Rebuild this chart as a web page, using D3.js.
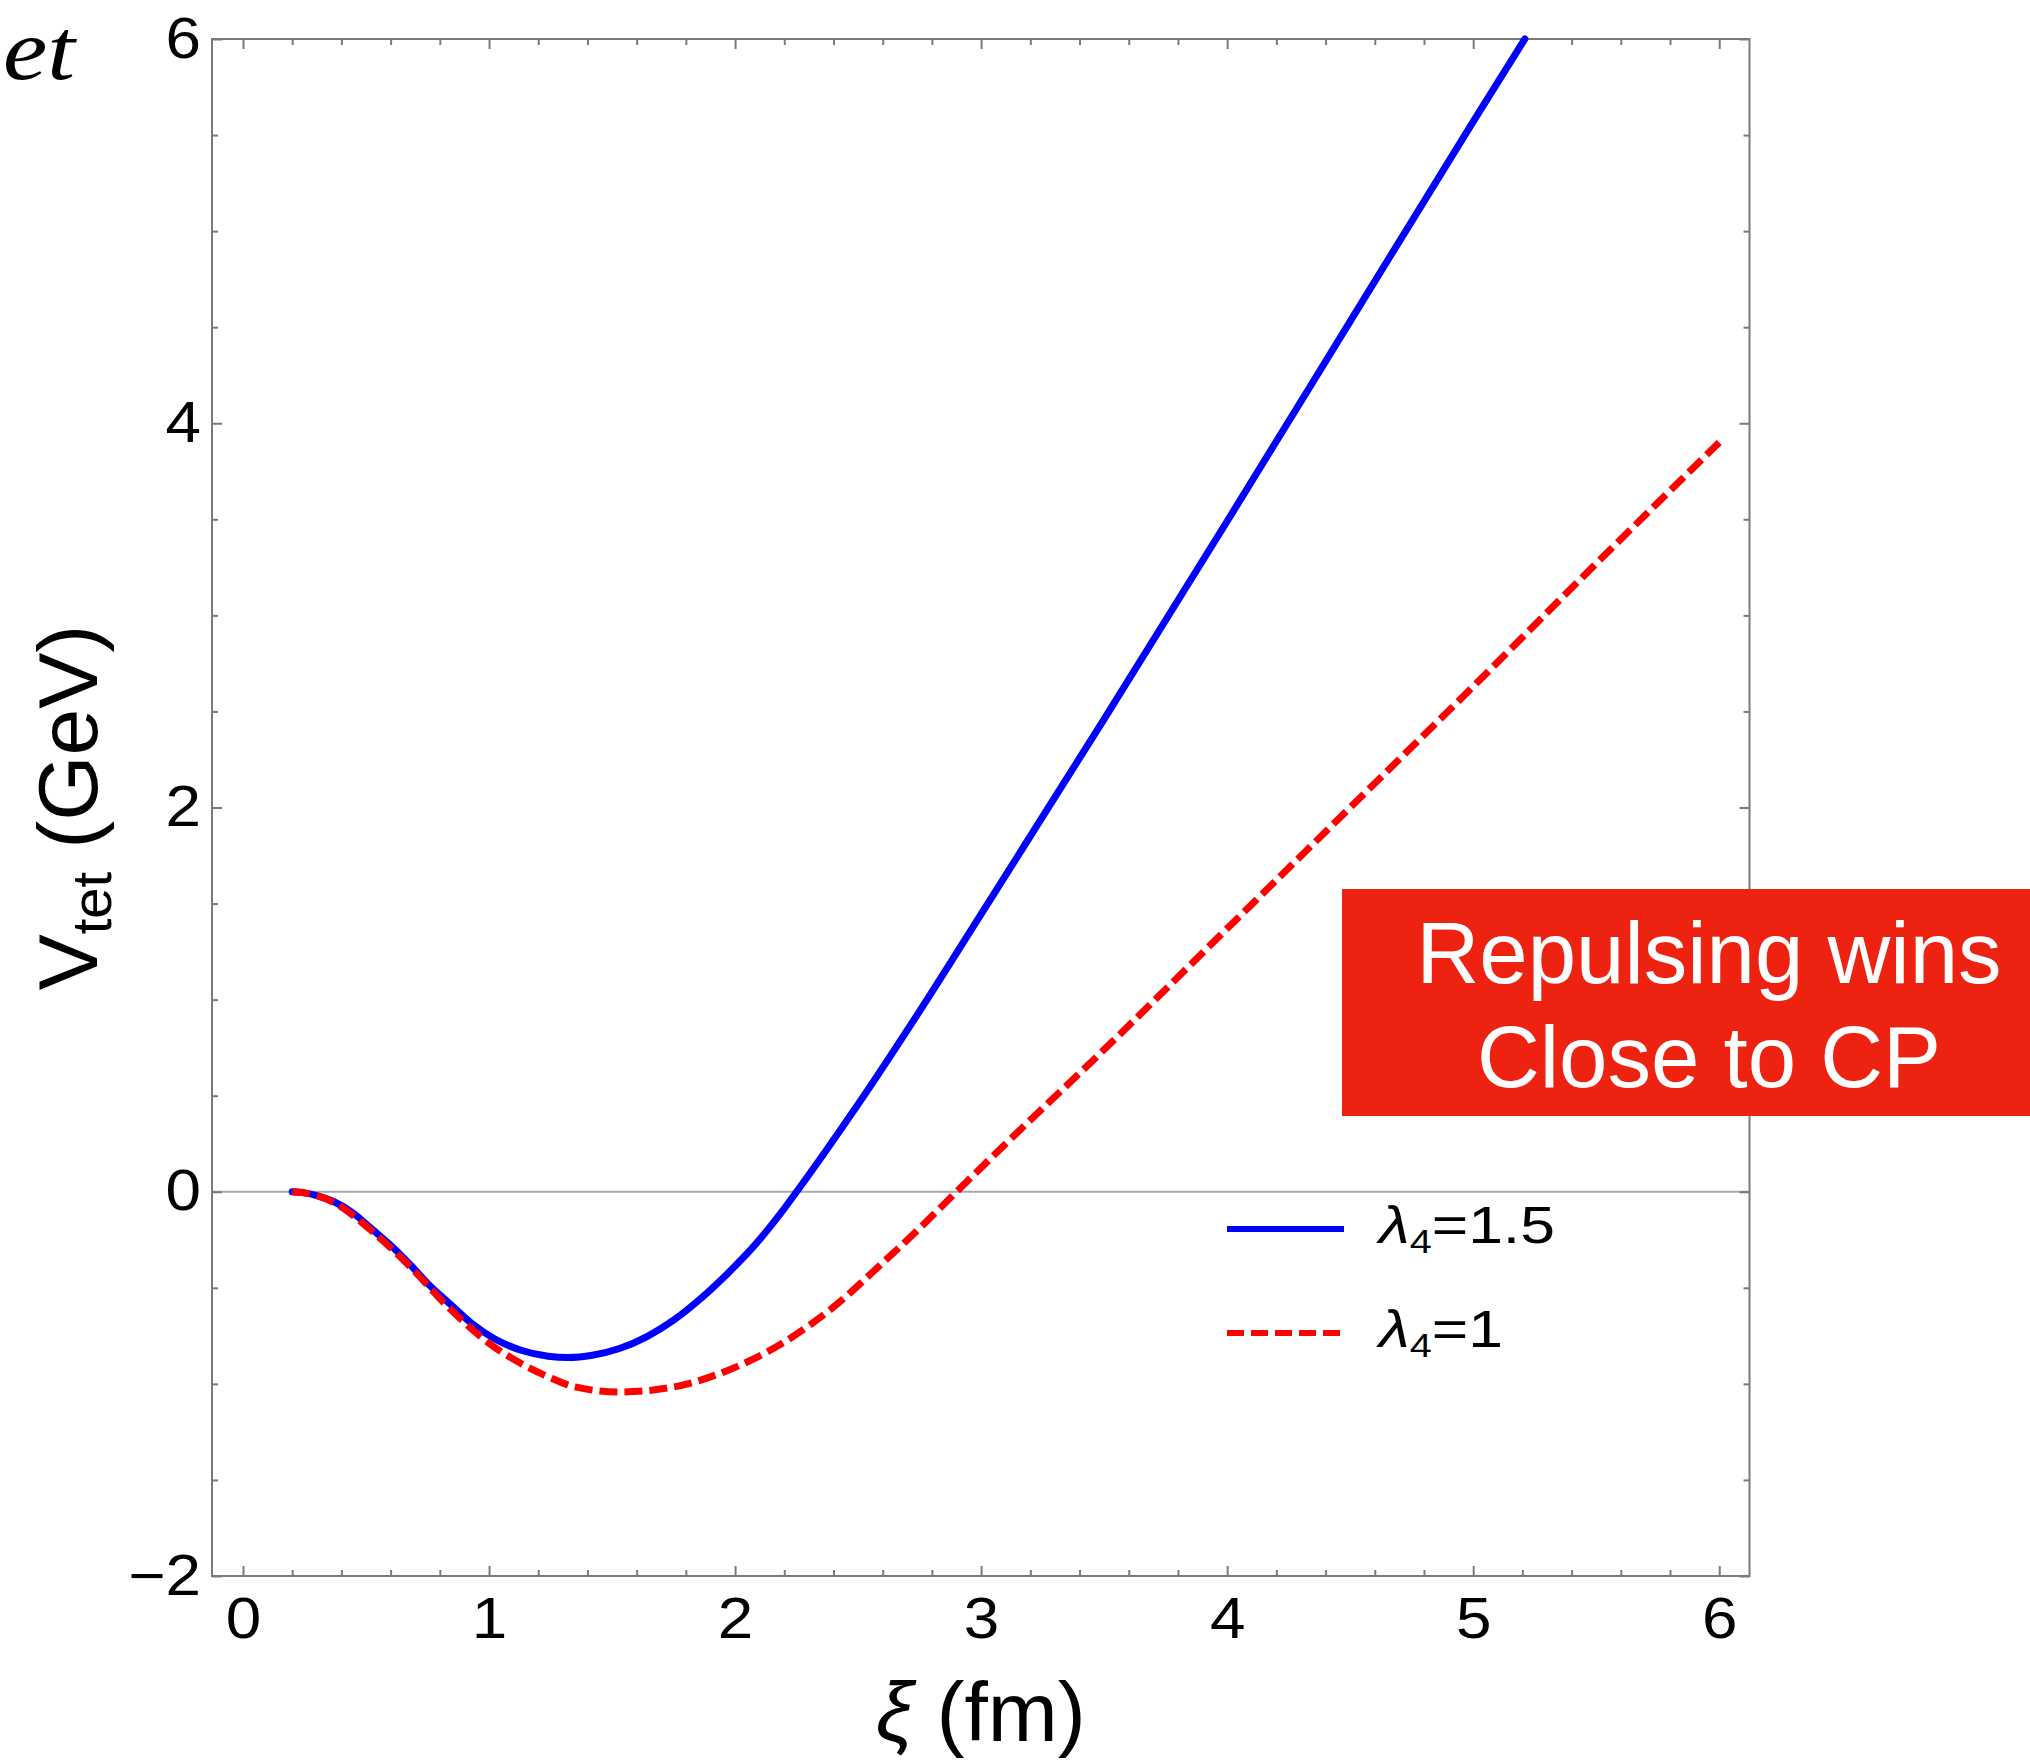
<!DOCTYPE html>
<html>
<head>
<meta charset="utf-8">
<script src="https://cdn.jsdelivr.net/npm/d3@7"></script>
<style>
  html, body { margin: 0; padding: 0; background: #ffffff; }
  svg { display: block; }
</style>
</head>
<body>
<script>
// ---------------- data ----------------
const xiBlue = [0.20, 0.25, 0.30, 0.37, 0.45, 0.52, 0.61, 0.68, 0.75, 0.84, 0.93, 1.02, 1.13, 1.24, 1.32, 1.42, 1.53, 1.64, 1.75, 1.86, 1.97, 2.08, 2.185, 2.25, 2.37, 2.50, 2.75, 3.00, 3.50, 4.00, 4.50, 5.00, 5.21];
const vBlue  = [0.000, -0.006, -0.020, -0.052, -0.113, -0.190, -0.290, -0.380, -0.477, -0.582, -0.686, -0.764, -0.825, -0.856, -0.863, -0.851, -0.816, -0.755, -0.668, -0.556, -0.425, -0.278, -0.113, 0.000, 0.215, 0.455, 0.940, 1.445, 2.460, 3.490, 4.530, 5.570, 6.000];

const xiRed = [0.20, 0.25, 0.30, 0.37, 0.52, 0.68, 0.84, 1.02, 1.13, 1.24, 1.35, 1.53, 1.75, 1.97, 2.19, 2.40, 2.60, 2.75, 2.90, 3.10, 3.50, 4.00, 4.50, 5.00, 5.50, 6.00];
const vRed  = [0.000, -0.006, -0.020, -0.056, -0.200, -0.391, -0.608, -0.807, -0.894, -0.963, -1.016, -1.042, -1.016, -0.930, -0.790, -0.600, -0.370, -0.190, 0.000, 0.250, 0.740, 1.370, 2.000, 2.630, 3.270, 3.900];

const xMajorTicks = [0, 1, 2, 3, 4, 5, 6];
const yMajorTicks = [-2, 0, 2, 4, 6];
const seriesNames = ["λ4=1.5", "λ4=1"];
const boxLines = ["Repulsing wins", "Close to CP"];

// ---------------- layout ----------------
const W = 2030, H = 1763;
const L = 212, R = 1749.5, T = 39, B = 1576;
const frameColor = "#7a7a7a";
const sans = "'Liberation Sans', Arial, Helvetica, sans-serif";

const svg = d3.select("body").append("svg").attr("width", W).attr("height", H)
  .attr("viewBox", `0 0 ${W} ${H}`);

const x = d3.scaleLinear().domain([-0.126, 6.123]).range([L, R]);
const y = d3.scaleLinear().domain([-2, 6]).range([B, T]);

const xMinor = d3.range(0, 6.0001, 0.2).map(v => +v.toFixed(2)).filter(v => !xMajorTicks.includes(v));
const yMinor = d3.range(-2, 6.0001, 0.5).filter(v => !yMajorTicks.includes(v));

// zero line
svg.append("line")
  .attr("x1", L).attr("x2", R).attr("y1", y(0)).attr("y2", y(0))
  .attr("stroke", "#a8a8a8").attr("stroke-width", 2);

function styleAxis(g) {
  g.select(".domain").remove();
  g.selectAll(".tick line").attr("stroke", frameColor).attr("stroke-width", 2);
  g.selectAll("text").attr("fill", "#000").attr("font-family", sans).attr("font-size", 57);
}
function widen(g, s) {
  g.selectAll(".tick text").each(function () {
    const el = d3.select(this);
    const xx = +el.attr("x") || 0, yy = +el.attr("y") || 0;
    el.attr("transform", `translate(${xx},${yy}) scale(${s},1) translate(${-xx},${-yy})`);
  });
}

// bottom
svg.append("g").attr("transform", `translate(0,${B})`)
  .call(d3.axisBottom(x).tickValues(xMajorTicks).tickSize(-10).tickPadding(22).tickFormat(d3.format("d")))
  .call(styleAxis).call(g => widen(g, 1.12));
svg.append("g").attr("transform", `translate(0,${B})`)
  .call(d3.axisBottom(x).tickValues(xMinor).tickSize(-6).tickFormat(""))
  .call(styleAxis);
// top
svg.append("g").attr("transform", `translate(0,${T})`)
  .call(d3.axisTop(x).tickValues(xMajorTicks).tickSize(-10).tickFormat(""))
  .call(styleAxis);
svg.append("g").attr("transform", `translate(0,${T})`)
  .call(d3.axisTop(x).tickValues(xMinor).tickSize(-6).tickFormat(""))
  .call(styleAxis);
// left
svg.append("g").attr("transform", `translate(${L},0)`)
  .call(d3.axisLeft(y).tickValues(yMajorTicks).tickSize(-10).tickPadding(11).tickFormat(d3.format("d")))
  .call(styleAxis).call(g => widen(g, 1.12));
svg.append("g").attr("transform", `translate(${L},0)`)
  .call(d3.axisLeft(y).tickValues(yMinor).tickSize(-6).tickFormat(""))
  .call(styleAxis);
// right
svg.append("g").attr("transform", `translate(${R},0)`)
  .call(d3.axisRight(y).tickValues(yMajorTicks).tickSize(-10).tickFormat(""))
  .call(styleAxis);
svg.append("g").attr("transform", `translate(${R},0)`)
  .call(d3.axisRight(y).tickValues(yMinor).tickSize(-6).tickFormat(""))
  .call(styleAxis);

// frame
svg.append("rect").attr("x", L).attr("y", T).attr("width", R - L).attr("height", B - T)
  .attr("fill", "none").attr("stroke", frameColor).attr("stroke-width", 2);

// clip
svg.append("clipPath").attr("id", "plotclip").append("rect")
  .attr("x", L).attr("y", T - 4).attr("width", R - L).attr("height", B - T + 4);

const line = d3.line().x(d => x(d[0])).y(d => y(d[1])).curve(d3.curveMonotoneX);
const blueData = xiBlue.map((v, i) => [v, vBlue[i]]);
const redData = xiRed.map((v, i) => [v, vRed[i]]);

const plot = svg.append("g").attr("clip-path", "url(#plotclip)");
plot.append("path").datum(blueData).attr("d", line)
  .attr("fill", "none").attr("stroke", "#0000ff").attr("stroke-width", 7)
  .attr("stroke-linecap", "round").attr("stroke-linejoin", "round");
plot.append("path").datum(redData).attr("d", line)
  .attr("fill", "none").attr("stroke", "#ff0000").attr("stroke-width", 7)
  .attr("stroke-dasharray", "18,7");

// legend
const legend = svg.append("g");
const legendRows = [
  { name: seriesNames[0], color: "#0000ff", dash: null, ly: 1229 },
  { name: seriesNames[1], color: "#ff0000", dash: "17,7", ly: 1333 }
];
legendRows.forEach(r => {
  legend.append("line").attr("x1", 1227).attr("x2", 1344).attr("y1", r.ly).attr("y2", r.ly)
    .attr("stroke", r.color).attr("stroke-width", 6)
    .attr("stroke-dasharray", r.dash);
  const t = legend.append("text").attr("transform", `translate(1379,${r.ly + 14}) scale(1.2,1)`)
    .attr("font-family", sans).attr("font-size", 52).attr("fill", "#000");
  t.append("tspan").attr("font-style", "italic").text("λ");
  t.append("tspan").attr("font-size", 33).attr("dy", 10).text("4");
  t.append("tspan").attr("dy", -10).text(r.name.slice(2));
});

// axis labels
const ylab = svg.append("text")
  .attr("transform", `translate(97,${(T + B) / 2}) rotate(-90)`)
  .attr("text-anchor", "middle").attr("font-family", sans).attr("font-size", 84).attr("fill", "#000");
ylab.append("tspan").text("V");
ylab.append("tspan").attr("font-size", 56).attr("dy", 14).text("tet");
ylab.append("tspan").attr("dy", -14).text(" (GeV)");

const xlab = svg.append("text")
  .attr("x", (L + R) / 2).attr("y", 1741)
  .attr("text-anchor", "middle").attr("font-family", sans).attr("font-size", 84).attr("fill", "#000");
xlab.append("tspan").attr("font-style", "italic").text("ξ");
xlab.append("tspan").text(" (fm)");

// stray "et"
svg.append("text").attr("x", 3).attr("y", 79)
  .attr("font-family", "'Liberation Serif', 'Times New Roman', serif").attr("font-style", "italic")
  .attr("font-size", 86).attr("fill", "#000")
  .attr("textLength", 72).attr("lengthAdjust", "spacingAndGlyphs").text("et");

// red annotation box
svg.append("rect").attr("x", 1342).attr("y", 889).attr("width", W - 1342).attr("height", 227)
  .attr("fill", "#ee2210");
boxLines.forEach((s, i) => {
  svg.append("text").attr("x", 1709).attr("y", 983 + i * 104)
    .attr("text-anchor", "middle").attr("font-family", sans).attr("font-size", 87)
    .attr("fill", "#ffffff").text(s);
});
</script>
</body>
</html>
